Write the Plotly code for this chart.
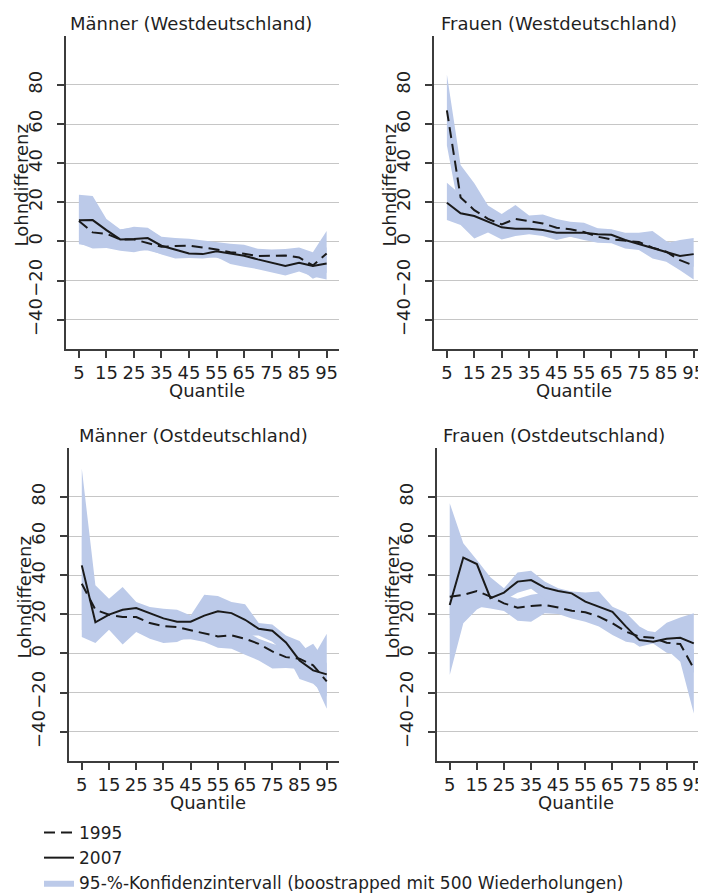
import plotly.graph_objects as go

# The page body has an 8px margin, so the figure is drawn 8px in from the window corner.
OFF = 8
W, H = 706 - OFF, 894 - OFF

# ---------------- data ----------------
quantiles = [5, 10, 15, 20, 25, 30, 35, 40, 45, 50, 55, 60, 65, 70, 75, 80, 85, 90, 95]
x_tick_vals = [5, 15, 25, 35, 45, 55, 65, 75, 85, 95]
y_tick_vals = [-40, -20, 0, 20, 40, 60, 80]

panel_titles = ["Männer (Westdeutschland)", "Frauen (Westdeutschland)",
                "Männer (Ostdeutschland)", "Frauen (Ostdeutschland)"]

# Männer West
mw_1995 = [10.4, 4.6, 3.9, 1.0, 1.0, -0.7, -2.7, -2.4, -2.2, -3.1, -4.1, -5.5, -6.3, -7.5, -7.5, -7.2, -8.2, -12.3, -6.2]
mw_2007 = [10.8, 10.9, 5.8, 1.0, 1.2, 1.7, -2.2, -4.4, -6.2, -6.5, -5.0, -6.2, -7.3, -9.2, -10.9, -12.5, -10.9, -12.6, -11.3]
mw_ci95_hi = [22.0, 18.0, 11.0, 6.0, 7.5, 7.0, 2.4, 1.7, 1.4, 0.5, -0.3, -1.2, -1.7, -3.8, -4.1, -3.9, -3.1, -5.5, 5.3]
mw_ci95_lo = [-1.4, -2.5, -3.0, -4.0, -4.5, -4.6, -6.5, -7.0, -7.5, -8.0, -8.4, -10.0, -11.0, -12.0, -12.5, -13.0, -13.5, -19.1, -16.0]
mw_ci07_hi = [23.9, 23.2, 11.5, 6.2, 7.0, 6.5, 2.0, 0.5, -1.0, -1.5, -1.5, -2.0, -3.0, -5.0, -6.0, -7.0, -5.0, -7.0, -3.0]
mw_ci07_lo = [-1.0, -3.6, -3.4, -4.8, -5.5, -4.0, -6.7, -8.7, -8.5, -8.7, -8.0, -11.6, -13.0, -14.2, -15.7, -17.4, -15.4, -18.0, -19.5]

# Frauen West
fw_1995 = [67.0, 22.5, 16.0, 11.5, 8.7, 11.5, 10.4, 9.2, 7.0, 6.2, 4.8, 2.4, 1.0, 0.2, -0.3, -3.2, -5.3, -9.6, -12.3]
fw_2007 = [19.8, 14.4, 13.0, 10.1, 7.2, 6.5, 6.5, 5.8, 4.4, 4.4, 4.4, 3.6, 3.4, 0.7, -1.4, -3.6, -5.6, -7.5, -6.5]
fw_ci95_hi = [85.3, 39.1, 29.7, 18.3, 14.0, 18.6, 13.2, 13.7, 11.5, 10.1, 9.6, 6.7, 6.2, 4.4, 4.4, 5.3, 0.2, -3.0, -6.0]
fw_ci95_lo = [49.0, 12.0, 9.0, 6.0, 3.0, 5.0, 5.0, 4.0, 2.0, 2.4, 0.7, -0.7, -1.0, -3.6, -4.4, -8.7, -10.4, -14.7, -19.5]
fw_ci07_hi = [30.0, 24.0, 22.0, 15.0, 11.0, 10.0, 10.0, 9.0, 8.0, 8.0, 8.0, 6.5, 6.0, 4.0, 3.0, 2.0, -1.0, 0.7, 1.7]
fw_ci07_lo = [10.9, 8.4, 1.5, 4.6, 1.0, 2.7, 3.6, 2.7, 0.7, 2.4, 1.5, 0.5, -0.5, -3.0, -4.0, -7.0, -9.0, -12.0, -13.0]

# Männer Ost
mo_1995 = [35.6, 22.3, 19.8, 18.6, 18.6, 15.5, 14.0, 13.5, 11.8, 10.4, 8.7, 9.2, 7.5, 4.9, 1.0, -1.9, -2.7, -6.1, -14.3]
mo_2007 = [45.0, 15.9, 19.8, 22.3, 23.2, 20.6, 17.9, 16.2, 16.2, 19.3, 21.5, 20.6, 17.2, 12.6, 11.6, 5.6, -3.6, -8.7, -10.7]
mo_ci95_hi = [60.0, 30.0, 26.0, 25.0, 24.0, 21.0, 20.0, 19.0, 17.0, 15.0, 13.0, 13.5, 11.5, 7.5, 5.0, 3.0, 1.0, 4.9, -5.0]
mo_ci95_lo = [12.0, 8.0, 14.0, 12.0, 12.0, 9.0, 8.0, 7.0, 7.2, 5.8, 2.9, 2.4, -0.7, -3.6, -7.7, -7.5, -8.0, -13.0, -28.3]
mo_ci07_hi = [94.5, 34.8, 28.0, 33.9, 26.3, 23.7, 22.8, 22.3, 19.4, 30.0, 29.3, 26.3, 25.1, 15.5, 14.8, 9.2, 6.3, -2.0, 10.1]
mo_ci07_lo = [8.4, 5.3, 12.1, 4.6, 10.9, 7.5, 5.3, 5.8, 9.0, 10.0, 12.0, 12.0, 9.0, 9.2, 6.0, 0.0, -13.1, -15.5, -22.0]

# Frauen Ost
fo_1995 = [29.0, 29.9, 31.9, 29.0, 25.6, 23.4, 24.2, 24.7, 23.5, 21.8, 21.0, 18.8, 15.4, 11.1, 8.5, 8.0, 5.5, 4.8, -7.7]
fo_2007 = [24.7, 49.0, 45.7, 28.2, 31.1, 36.7, 37.5, 33.6, 31.9, 30.7, 26.5, 23.9, 21.3, 13.7, 6.8, 6.0, 7.5, 8.0, 5.1]
fo_ci95_hi = [40.0, 38.0, 40.0, 36.0, 30.0, 28.0, 30.0, 31.0, 30.0, 28.0, 27.0, 25.0, 21.0, 16.0, 12.0, 11.1, 9.0, 10.0, 2.0]
fo_ci95_lo = [18.0, 22.0, 24.0, 23.0, 21.7, 16.7, 16.2, 20.5, 20.1, 17.9, 16.2, 13.7, 9.4, 6.0, 5.0, 5.5, 2.0, -4.3, -30.7]
fo_ci07_hi = [76.8, 56.3, 47.8, 38.9, 33.3, 41.3, 42.3, 36.7, 33.3, 31.6, 31.1, 31.6, 23.9, 20.8, 13.7, 10.0, 15.7, 18.4, 20.5]
fo_ci07_lo = [-11.1, 15.4, 22.5, 26.0, 27.0, 31.0, 33.0, 28.0, 26.0, 24.0, 21.0, 17.0, 15.0, 8.0, 3.4, 5.1, 0.3, -1.0, -10.0]

series_1995 = [mw_1995, fw_1995, mo_1995, fo_1995]
series_2007 = [mw_2007, fw_2007, mo_2007, fo_2007]
bands_1995 = [(mw_ci95_lo, mw_ci95_hi), (fw_ci95_lo, fw_ci95_hi), (mo_ci95_lo, mo_ci95_hi), (fo_ci95_lo, fo_ci95_hi)]
bands_2007 = [(mw_ci07_lo, mw_ci07_hi), (fw_ci07_lo, fw_ci07_hi), (mo_ci07_lo, mo_ci07_hi), (fo_ci07_lo, fo_ci07_hi)]

# ---------------- styling / layout geometry (page pixels) ----------------
FONT = "DejaVu Sans"
TXT = "#1f1f1f"
AXC = "#3c3c3c"
BAND = "#bccae9"
LINE = "#1a1a1a"
FS = 18

# plot areas in page pixel coords: (left, right, top, bottom)
boxes = [(66, 339, 36, 349), (434, 706, 36, 349), (69, 339, 448, 761), (437, 706, 448, 761)]
title_left = [68, 439, 77, 441]


def px(x):
    return (x - OFF) / W


def py(y):
    return 1 - (y - OFF) / H


fig = go.Figure()
annotations = []

for i in range(4):
    ax = "" if i == 0 else str(i + 1)
    xa, ya = "x" + ax, "y" + ax
    lo95, hi95 = bands_1995[i]
    lo07, hi07 = bands_2007[i]
    for (lo, hi), show in (((lo95, hi95), False), ((lo07, hi07), i == 0)):
        fig.add_trace(go.Scatter(
            x=quantiles + quantiles[::-1], y=list(hi) + list(lo)[::-1],
            fill="toself", fillcolor=BAND, line=dict(width=0, color=BAND),
            mode="lines", hoverinfo="skip",
            name="95-%-Konfidenzintervall (boostrapped mit 500 Wiederholungen)",
            showlegend=show, legendrank=3, xaxis=xa, yaxis=ya))
    fig.add_trace(go.Scatter(
        x=quantiles, y=series_1995[i], mode="lines",
        line=dict(color=LINE, width=2, dash="11px,6px"),
        name="1995", showlegend=(i == 0), legendrank=1, xaxis=xa, yaxis=ya))
    fig.add_trace(go.Scatter(
        x=quantiles, y=series_2007[i], mode="lines",
        line=dict(color=LINE, width=2),
        name="2007", showlegend=(i == 0), legendrank=2, xaxis=xa, yaxis=ya))

    l, r, t, b = boxes[i]
    xkey = "xaxis" + ax
    ykey = "yaxis" + ax
    fig.layout[xkey] = dict(
        domain=[px(l), min(px(r), 1.0)], anchor=ya, range=[0.3, 99.5],
        tickvals=x_tick_vals, ticktext=[str(v) for v in x_tick_vals],
        showgrid=False, zeroline=False, showline=True, linecolor=AXC, linewidth=1.5,
        ticks="outside", ticklen=7, tickwidth=1.5, tickcolor=AXC,
        tickfont=dict(family=FONT, size=FS, color=TXT), ticklabelstandoff=0)
    fig.layout[ykey] = dict(
        domain=[py(b), py(t)], anchor=xa, range=[-55, 105],
        tickvals=y_tick_vals, ticktext=[("\u2212" + str(-v)) if v < 0 else str(v) for v in y_tick_vals],
        tickangle=-90,
        showgrid=True, gridcolor="#c6c6c6", gridwidth=1.2, zeroline=False,
        showline=True, linecolor=AXC, linewidth=1.5,
        ticks="outside", ticklen=7, tickwidth=1.5, tickcolor=AXC,
        tickfont=dict(family=FONT, size=FS, color=TXT), ticklabelstandoff=8)

    annotations.append(dict(text=panel_titles[i], x=px(title_left[i]), y=py(t - 12),
                            xref="paper", yref="paper", xanchor="left", yanchor="middle",
                            showarrow=False, font=dict(family=FONT, size=FS, color=TXT)))
    annotations.append(dict(text="Quantile", x=px((l + r) / 2 + 4), y=py(b + 41),
                            xref="paper", yref="paper", xanchor="center", yanchor="middle",
                            showarrow=False, font=dict(family=FONT, size=FS, color=TXT)))
    annotations.append(dict(text="Lohndifferenz", x=px(l - 45), y=py((t + b) / 2 - 7),
                            xref="paper", yref="paper", xanchor="center", yanchor="middle",
                            textangle=-90, showarrow=False,
                            font=dict(family=FONT, size=FS, color=TXT)))

fig.update_layout(
    width=W, height=H, margin=dict(l=0, r=0, t=0, b=0, autoexpand=False),
    paper_bgcolor="white", plot_bgcolor="white",
    font=dict(family=FONT, size=FS, color=TXT),
    annotations=annotations,
    showlegend=True,
    legend=dict(x=px(39), y=py(815), xanchor="left", yanchor="top",
                orientation="v", tracegroupgap=0, itemwidth=30,
                bgcolor="rgba(0,0,0,0)", font=dict(family=FONT, size=17, color=TXT)),
)

fig.write_html("out.html")
